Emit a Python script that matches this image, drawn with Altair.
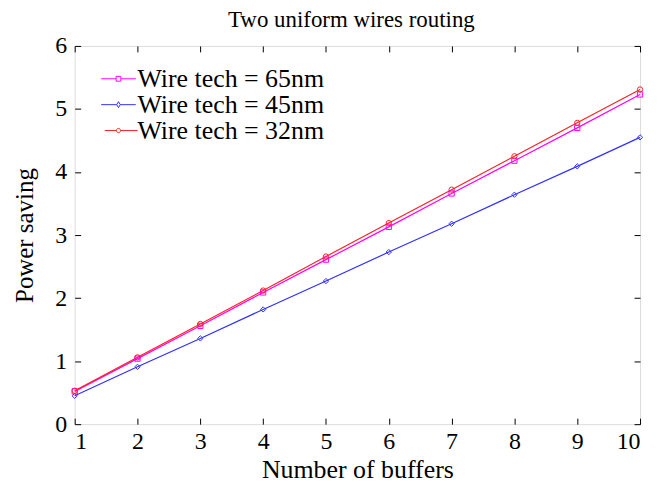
import altair as alt
import pandas as pd

buffers = [1, 2, 3, 4, 5, 6, 7, 8, 9, 10]
series_names = ["Wire tech = 65nm", "Wire tech = 45nm", "Wire tech = 32nm"]
saving_65 = [0.52, 1.04, 1.56, 2.09, 2.61, 3.13, 3.66, 4.18, 4.70, 5.23]
saving_45 = [0.45, 0.91, 1.36, 1.82, 2.27, 2.73, 3.18, 3.64, 4.09, 4.55]
saving_32 = [0.53, 1.06, 1.59, 2.12, 2.66, 3.19, 3.72, 4.25, 4.78, 5.31]
colors = ["#FF00FF", "#3030FF", "#FF2020"]
shapes = ["square", "diamond", "circle"]
x_ticks = [1, 2, 3, 4, 5, 6, 7, 8, 9, 10]
y_ticks = [0, 1, 2, 3, 4, 5, 6]

rows = []
for name, vals in zip(series_names, [saving_65, saving_45, saving_32]):
    for b, v in zip(buffers, vals):
        rows.append({"buffers": b, "saving": v, "series": name})
df = pd.DataFrame(rows)

W, H = 568, 380
FONT = "Liberation Serif"

xscale = alt.Scale(domain=[1, 10], nice=False)
yscale = alt.Scale(domain=[0, 6], nice=False)

sym_expr = (
    "datum.value === 'Wire tech = 65nm' ? "
    "'M-2.9,0H-0.4M0.4,0H2.9M-0.4,-0.4H0.4V0.4H-0.4Z' : "
    "datum.value === 'Wire tech = 45nm' ? "
    "'M-2.9,0H-0.3M0.3,0H2.9M0,-0.5L0.3,0L0,0.5L-0.3,0Z' : "
    "'M-2.3,0H-0.35M0.35,0H3.2M0.35,0A0.35,0.35 0 1,1 -0.35,0A0.35,0.35 0 1,1 0.35,0Z'"
)

legend = alt.Legend(
    title=None,
    orient="none",
    legendX=31,
    legendY=20,
    symbolSize=144,
    symbolType={"expr": sym_expr},
    symbolFillColor="transparent",
    symbolStrokeWidth=1,
    labelFont=FONT,
    labelFontSize=26,
    labelColor="black",
    labelOffset=6,
    labelLimit=400,
    rowPadding=-1,
    padding=0,
)

color = alt.Color(
    "series:N",
    scale=alt.Scale(domain=series_names, range=colors),
    sort=series_names,
    legend=legend,
)

base = alt.Chart(df)

lines = base.mark_line(strokeWidth=1.2).encode(
    x=alt.X(
        "buffers:Q",
        scale=xscale,
        axis=alt.Axis(
            title="Number of buffers",
            values=x_ticks,
            tickSize=0,
            domain=False,
            grid=False,
            labelFont=FONT,
            labelFontSize=24,
            labelColor="black",
            labelPadding=5,
            titleFont=FONT,
            titleFontSize=26,
            titleFontWeight="normal",
            titleColor="black",
            titlePadding=4,
        ),
    ),
    y=alt.Y(
        "saving:Q",
        scale=yscale,
        axis=alt.Axis(
            title="Power saving",
            values=y_ticks,
            tickSize=0,
            domain=False,
            grid=False,
            labelFont=FONT,
            labelFontSize=24,
            labelColor="black",
            labelPadding=8,
            titleFont=FONT,
            titleFontSize=25,
            titleFontWeight="normal",
            titleColor="black",
            titlePadding=17,
        ),
    ),
    color=color,
)

point_layers = []
for name, col, shp in zip(series_names, colors, shapes):
    point_layers.append(
        base.transform_filter(alt.datum.series == name)
        .mark_point(filled=False, size=28, strokeWidth=1, shape=shp, color=col, opacity=1)
        .encode(
            x=alt.X("buffers:Q", scale=xscale, axis=None),
            y=alt.Y("saving:Q", scale=yscale, axis=None),
        )
    )

tick_axis = dict(labels=False, domain=False, grid=False, title=None,
                 tickSize=6, tickColor="black", tickWidth=1)

ticks_a = base.mark_point(opacity=0).encode(
    x=alt.X("buffers:Q", scale=xscale,
            axis=alt.Axis(orient="top", offset=-H, values=x_ticks, **tick_axis)),
    y=alt.Y("saving:Q", scale=yscale,
            axis=alt.Axis(orient="right", offset=-W, values=y_ticks, **tick_axis)),
)

ticks_b = base.mark_point(opacity=0).encode(
    x=alt.X("buffers:Q", scale=xscale,
            axis=alt.Axis(orient="bottom", offset=-H, values=x_ticks, **tick_axis)),
    y=alt.Y("saving:Q", scale=yscale,
            axis=alt.Axis(orient="left", offset=-W, values=y_ticks, **tick_axis)),
)

chart = (
    alt.layer(lines, *point_layers, ticks_a, ticks_b)
    .resolve_axis(x="independent", y="independent")
    .properties(
        width=W,
        height=H,
        padding={"left": 5, "top": 0, "right": 5, "bottom": 0},
        title=alt.Title(
            "Two uniform wires routing",
            font=FONT,
            fontSize=23,
            fontWeight="normal",
            color="black",
            offset=2,
            dx=-6,
        ),
    )
    .configure_view(stroke="black", strokeWidth=1.5)
    .configure(background="white")
)

chart.save("out.html", embed_options={"renderer": "svg", "actions": False})
